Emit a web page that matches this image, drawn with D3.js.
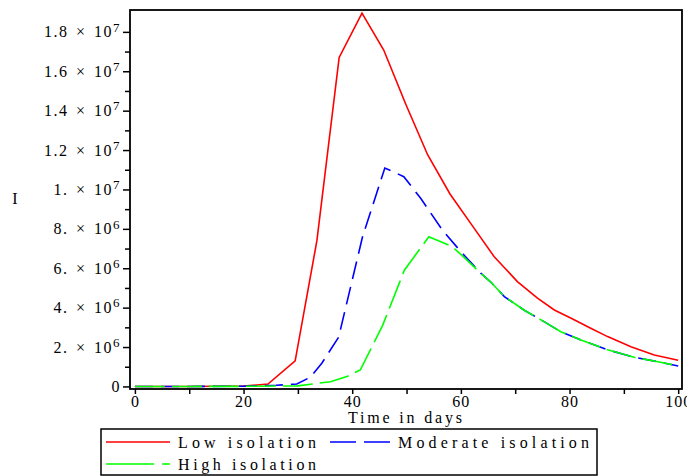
<!DOCTYPE html>
<html>
<head>
<meta charset="utf-8">
<script src="https://cdn.jsdelivr.net/npm/d3@7/dist/d3.min.js"></script>
<style>
body { margin: 0; background: #fff; }
svg text { font-family: "Liberation Serif", "Times New Roman", serif; font-size: 16px; fill: #000; }
.axis path, .axis line { stroke: #000; stroke-width: 1.5; }
</style>
</head>
<body>
<svg id="chart" width="687" height="476"></svg>
<script>
/* values: day, I (in millions) */
var low_days = [0, 10, 20, 24.5, 29.5, 33.5, 37.6, 41.8, 45.8, 49.9, 53.9, 58, 62, 66.1, 70.4, 74.1, 77.2, 80.3, 83.9, 87, 91.3, 95.6, 100];
var low_vals = [0, 0, 0.02, 0.12, 1.3, 7.4, 16.7, 18.95, 17.08, 14.3, 11.75, 9.77, 8.2, 6.6, 5.32, 4.48, 3.88, 3.46, 2.95, 2.53, 2.02, 1.6, 1.33];

var moderate_days = [0, 10, 20, 26, 29.8, 32.3, 34.4, 37.5, 41.9, 46, 49.5, 52.6, 56.6, 60, 63.65, 65.5, 68, 71.6, 75.3, 78.4, 82.1, 87, 91.9, 96.3, 100];
var moderate_vals = [0, 0, 0.01, 0.06, 0.12, 0.47, 1.18, 2.5, 7.6, 11.09, 10.65, 9.55, 7.94, 6.84, 5.75, 5.3, 4.56, 3.88, 3.29, 2.78, 2.36, 1.86, 1.48, 1.25, 1.04];

var high_days = [0, 10, 20, 30, 36, 39, 41.5, 45.6, 49.6, 54.1, 58.4, 60.6, 63.65, 65.5, 68, 71.6, 75.3, 78.4, 82.1, 87, 91.9, 96.3, 100];
var high_vals = [0, 0, 0.005, 0.03, 0.24, 0.5, 0.84, 3.1, 5.9, 7.6, 7.1, 6.55, 5.75, 5.3, 4.56, 3.88, 3.29, 2.78, 2.36, 1.86, 1.48, 1.25, 1.04];

/* tick labels */
var x_ticks = [0, 10, 20, 30, 40, 50, 60, 70, 80, 90, 100];
var x_tick_labels = ["0", "", "20", "", "40", "", "60", "", "80", "", "100"];
var y_ticks = [0, 2, 4, 6, 8, 10, 12, 14, 16, 18];
var y_minor_ticks = [1, 3, 5, 7, 9, 11, 13, 15, 17];
var y_tick_mantissa = ["0", "2.", "4.", "6.", "8.", "1.", "1.2", "1.4", "1.6", "1.8"];
var y_tick_exponent = ["", "6", "6", "6", "6", "7", "7", "7", "7", "7"];

var series_names = ["Low isolation", "Moderate isolation", "High isolation"];
var series_colors = ["#ff0000", "#0000ff", "#00ff00"];

var svg = d3.select("#chart");

/* plot frame edges (not "top": that name is taken by window.top) */
var frame = {left: 130, right: 682, top: 10, bottom: 389};

var x = d3.scaleLinear().domain([-0.9, 100.7]).range([frame.left, frame.right]);
var y = d3.scaleLinear().domain([-0.13, 19.11]).range([frame.bottom, frame.top]);

/* frame */
svg.append("rect")
    .attr("x", frame.left).attr("y", frame.top)
    .attr("width", frame.right - frame.left).attr("height", frame.bottom - frame.top)
    .attr("fill", "none")
    .attr("stroke", "#000")
    .attr("stroke-width", 1.8);

/* x axis */
svg.append("g")
    .attr("class", "axis")
    .attr("transform", "translate(0," + frame.bottom + ")")
    .call(d3.axisBottom(x).tickValues(x_ticks).tickSize(5).tickSizeOuter(0)
        .tickFormat(function(d, i) { return x_tick_labels[i]; }))
    .call(function(g) { g.select(".domain").remove(); })
    .selectAll("text")
      .attr("y", 7)
      .attr("font-size", 17)
      .attr("letter-spacing", 1);

/* y axis, major ticks */
var y_axis = svg.append("g")
    .attr("class", "axis")
    .attr("transform", "translate(" + frame.left + ",0)")
    .call(d3.axisLeft(y).tickValues(y_ticks).tickSize(7).tickSizeOuter(0).tickFormat(""))
    .call(function(g) { g.select(".domain").remove(); });

y_axis.selectAll(".tick").append("text")
    .attr("x", -9)
    .attr("dy", "0.32em")
    .attr("text-anchor", "end")
    .attr("font-size", 17)
    .attr("letter-spacing", 1.5)
    .attr("word-spacing", 2)
    .each(function(d, i) {
      var t = d3.select(this);
      if (y_tick_exponent[i] === "") {
        t.text(y_tick_mantissa[i]);
        return;
      }
      t.append("tspan").text(y_tick_mantissa[i] + " \u00d7 10");
      t.append("tspan").attr("dy", "-0.45em").attr("font-size", 13).text(y_tick_exponent[i]);
    });

/* y axis, minor ticks */
svg.append("g")
    .attr("class", "axis")
    .attr("transform", "translate(" + frame.left + ",0)")
    .call(d3.axisLeft(y).tickValues(y_minor_ticks).tickSize(5).tickSizeOuter(0).tickFormat(""))
    .call(function(g) { g.select(".domain").remove(); });

/* axis titles */
svg.append("text")
    .attr("x", 15).attr("y", 204)
    .attr("text-anchor", "middle")
    .attr("font-size", 17)
    .text("I");

svg.append("text")
    .attr("x", 348).attr("y", 423)
    .attr("font-size", 17)
    .attr("textLength", 114).attr("lengthAdjust", "spacing")
    .text("Time in days");

/* curves */
var line = d3.line()
    .x(function(d) { return x(d[0]); })
    .y(function(d) { return y(d[1]); });

var series = [
  {days: low_days, vals: low_vals, dash: null},
  {days: moderate_days, vals: moderate_vals, dash: "18,8"},
  {days: high_days, vals: high_vals, dash: "30,7"}
];

series.forEach(function(s, i) {
  svg.append("path")
      .datum(d3.zip(s.days, s.vals))
      .attr("d", line)
      .attr("fill", "none")
      .attr("stroke", series_colors[i])
      .attr("stroke-width", 1.6)
      .attr("stroke-dasharray", s.dash);
});

/* legend */
var legend = svg.append("g");
legend.append("rect")
    .attr("x", 101).attr("y", 429)
    .attr("width", 496).attr("height", 46)
    .attr("fill", "#fff")
    .attr("stroke", "#000")
    .attr("stroke-width", 1.5);

var legend_pos = [
  {lx: 106, ly: 442, tx: 178, w: 138, dash: null},
  {lx: 330, ly: 442, tx: 398, w: 191, dash: "26,8"},
  {lx: 106, ly: 464, tx: 178, w: 138, dash: "48,8"}
];

legend_pos.forEach(function(p, i) {
  legend.append("line")
      .attr("x1", p.lx).attr("x2", p.lx + 64)
      .attr("y1", p.ly).attr("y2", p.ly)
      .attr("stroke", series_colors[i])
      .attr("stroke-width", 1.6)
      .attr("stroke-dasharray", p.dash);
  legend.append("text")
      .attr("x", p.tx).attr("y", p.ly + 6)
      .attr("font-size", 18)
      .attr("textLength", p.w).attr("lengthAdjust", "spacing")
      .text(series_names[i]);
});
</script>
</body>
</html>
